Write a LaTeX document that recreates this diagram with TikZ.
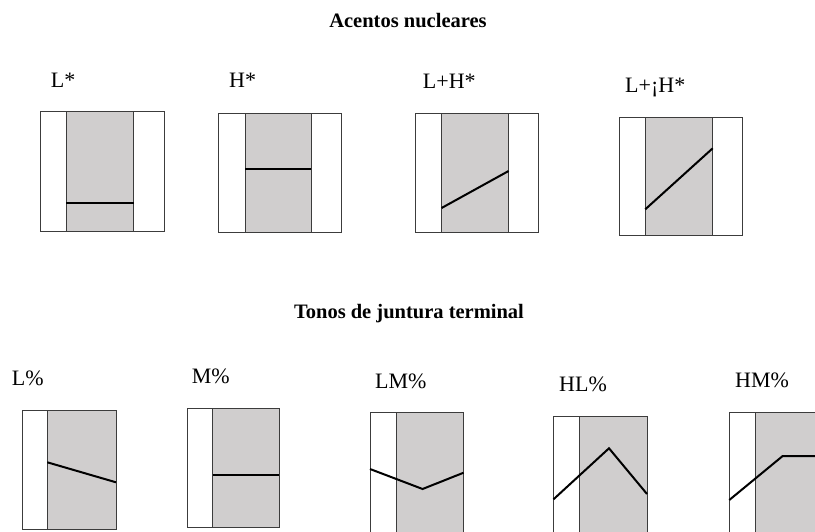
\documentclass[tikz,border=0pt]{standalone}
\usepackage{fontspec}
\setmainfont{Liberation Serif}

\definecolor{bandgray}{RGB}{208,206,206}
\definecolor{edgegray}{RGB}{60,60,60}

\tikzset{
  framebox/.style={draw=edgegray, line width=1pt, fill=white},
  bandbox/.style={draw=edgegray, line width=1pt, fill=bandgray},
  contour/.style={black, line width=2pt, line join=miter},
  tonelabel/.style={anchor=base west, inner sep=0pt, font=\fontsize{22}{26}\selectfont},
  heading/.style={anchor=base, inner sep=0pt, font=\bfseries\fontsize{20.5}{24}\selectfont}
}

\begin{document}
\begin{tikzpicture}[x=1pt, y=-1pt]

\clip (0,0) rectangle (815,532);

%Headings
\node [heading] (acentos) at (408,28) {Acentos nucleares};
\node [heading] (tonos) at (409,318) {Tonos de juntura terminal};

%L* box
\node [tonelabel] (lstar) at (50.7,88) {L*};
\draw [framebox] (40.5,112) rectangle (164,232);
\draw [bandbox] (66.4,112) rectangle (133.9,232);
\draw [contour] (66.4,203) -- (133.9,203);

%H* box
\node [tonelabel] (hstar) at (229,88) {H*};
\draw [framebox] (218.5,114) rectangle (341.5,233);
\draw [bandbox] (245,114) rectangle (311.4,233);
\draw [contour] (245,169) -- (311.4,169);

%L+H* box
\node [tonelabel] (lhstar) at (422.7,88.3) {L+H*};
\draw [framebox] (415.7,114) rectangle (538.7,233);
\draw [bandbox] (441.6,114) rectangle (508.6,233);
\draw [contour] (441.6,208) -- (508.6,171);

%L+¡H* box
\node [tonelabel] (lupstep) at (625,92.5) {L+¡H*};
\draw [framebox] (619.3,117.3) rectangle (742.7,236);
\draw [bandbox] (645.3,117.3) rectangle (712.7,236);
\draw [contour] (645.3,209.3) -- (712.7,148.3);

%L% box
\node [tonelabel] (lpct) at (11.7,385) {L\%};
\draw [framebox] (22.7,410) rectangle (116,529);
\draw [bandbox] (47.3,410) rectangle (116,529);
\draw [contour] (47.3,462.3) -- (116,482.3);

%M% box
\node [tonelabel] (mpct) at (191.7,383.3) {M\%};
\draw [framebox] (187.3,408.3) rectangle (279.3,527.3);
\draw [bandbox] (212.7,408.3) rectangle (279.3,527.3);
\draw [contour] (212.7,475) -- (279.3,475);

%LM% box
\node [tonelabel] (lmpct) at (375,388) {LM\%};
\draw [framebox] (370,412.3) rectangle (463.6,540);
\draw [bandbox] (396,412.3) rectangle (463.6,540);
\draw [contour] (370,469) -- (422.6,489) -- (463.6,472.7);

%HL% box
\node [tonelabel] (hlpct) at (559,391.7) {HL\%};
\draw [framebox] (553.5,416) rectangle (647,540);
\draw [bandbox] (579.5,416) rectangle (647,540);
\draw [contour] (553.5,499.3) -- (609,448.3) -- (647,494);

%HM% box (runs off the right edge)
\node [tonelabel] (hmpct) at (735,387) {HM\%};
\draw [framebox] (729.3,412) rectangle (822,540);
\draw [bandbox] (755,412) rectangle (822,540);
\draw [contour] (729.3,500) -- (782.7,456) -- (822,456);

\end{tikzpicture}
\end{document}
